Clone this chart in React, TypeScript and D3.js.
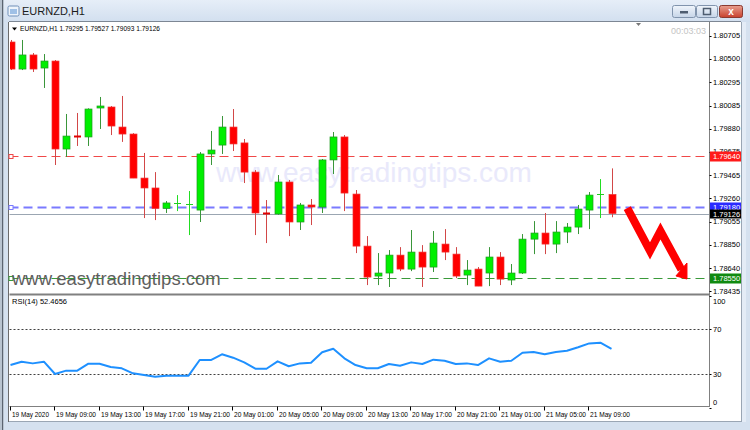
import React from 'react';
import * as d3 from 'd3';

// EURNZD H1 candles, 19 May 05:00 .. 21 May 11:00
const opens = [1.80649, 1.80409, 1.80534, 1.80418, 1.80480, 1.79699, 1.79814, 1.79806, 1.80063, 1.80072,
  1.79894, 1.79832, 1.79441, 1.79353, 1.79172, 1.79215, 1.79208, 1.79157, 1.79655, 1.79734,
  1.79894, 1.79753, 1.79494, 1.79131, 1.79122, 1.79406, 1.79051, 1.79202, 1.79184, 1.79602,
  1.79806, 1.79299, 1.78837, 1.78571, 1.78598, 1.78757, 1.78633, 1.78784, 1.78651, 1.78855,
  1.78766, 1.78580, 1.78633, 1.78598, 1.78740, 1.78536, 1.78598, 1.78899, 1.78953, 1.78855,
  1.78962, 1.79006, 1.79157, 1.79295, 1.79295];
const highs = [1.80667, 1.80667, 1.80551, 1.80542, 1.80489, 1.80010, 1.80019, 1.80060, 1.80161, 1.80081,
  1.80170, 1.79840, 1.79664, 1.79494, 1.79237, 1.79290, 1.79326, 1.79672, 1.79859, 1.79992,
  1.80054, 1.79788, 1.79512, 1.79246, 1.79468, 1.79424, 1.79220, 1.79255, 1.79610, 1.79850,
  1.79823, 1.79335, 1.78926, 1.78775, 1.78802, 1.78828, 1.78980, 1.78846, 1.78971, 1.78988,
  1.78828, 1.78713, 1.78651, 1.78828, 1.78784, 1.78678, 1.78944, 1.79059, 1.79131, 1.79059,
  1.79042, 1.79202, 1.79317, 1.79432, 1.79527];
const lows = [1.80400, 1.80400, 1.80383, 1.80241, 1.79557, 1.79628, 1.79726, 1.79726, 1.79877, 1.79823,
  1.79762, 1.79441, 1.79086, 1.79068, 1.79131, 1.79148, 1.78935, 1.79051, 1.79557, 1.79655,
  1.79681, 1.79397, 1.78935, 1.78864, 1.79115, 1.78926, 1.78980, 1.79024, 1.79131, 1.79477,
  1.79148, 1.78775, 1.78491, 1.78491, 1.78474, 1.78615, 1.78615, 1.78474, 1.78607, 1.78713,
  1.78553, 1.78491, 1.78482, 1.78482, 1.78491, 1.78491, 1.78590, 1.78766, 1.78766, 1.78775,
  1.78864, 1.78944, 1.78988, 1.79086, 1.79093];
const closes = [1.80409, 1.80534, 1.80409, 1.80480, 1.79699, 1.79814, 1.79806, 1.80054, 1.80081, 1.79903,
  1.79832, 1.79441, 1.79353, 1.79172, 1.79220, 1.79220, 1.79213, 1.79655, 1.79690, 1.79894,
  1.79744, 1.79494, 1.79131, 1.79122, 1.79406, 1.79051, 1.79202, 1.79184, 1.79602, 1.79806,
  1.79308, 1.78837, 1.78562, 1.78598, 1.78757, 1.78633, 1.78784, 1.78651, 1.78864, 1.78784,
  1.78571, 1.78624, 1.78482, 1.78740, 1.78544, 1.78598, 1.78899, 1.78953, 1.78855, 1.78962,
  1.79006, 1.79166, 1.79290, 1.79299, 1.79126];

const rsi = [38.0, 41.0, 39.5, 41.0, 30.0, 33.0, 33.0, 39.2, 39.2, 36.2,
  35.1, 30.6, 29.1, 27.6, 28.5, 28.5, 28.5, 42.5, 42.5, 47.6,
  44.6, 40.4, 34.7, 34.7, 41.3, 36.9, 39.5, 40.1, 49.4, 52.6,
  44.0, 38.0, 35.1, 35.1, 38.9, 37.4, 40.4, 38.9, 42.8, 41.9,
  38.9, 39.5, 38.0, 44.0, 41.0, 41.9, 49.0, 49.7, 47.6, 49.7,
  50.8, 53.9, 57.4, 58.0, 52.5];

const priceTicks = [1.80705, 1.80500, 1.80295, 1.80085, 1.79880, 1.79675, 1.79465, 1.79260, 1.79055, 1.78850, 1.78640, 1.78435];
const timeTickIdx = [0, 4, 8, 12, 16, 20, 24, 28, 32, 36, 40, 44, 48, 52];
const timeTickLabels = ['19 May 2020', '19 May 09:00', '19 May 13:00', '19 May 17:00', '19 May 21:00',
  '20 May 01:00', '20 May 05:00', '20 May 09:00', '20 May 13:00', '20 May 17:00', '20 May 21:00',
  '21 May 01:00', '21 May 05:00', '21 May 09:00'];
const rsiLevels = [70, 30];
const rsiLabels = [100, 70, 30, 0];

// horizontal lines: resistance, entry, support
const levelPrices = [1.79640, 1.79180, 1.78550];
const levelColors = ['#f04848', '#7a7aff', '#3a9a3a'];
const levelBoxColors = ['#ff1a1a', '#2a2aff', '#108a10'];
const levelWidths = [1, 2, 1];
const bidPrice = 1.79126;

// hand-drawn arrow, in (bar index, price)
const arrowLine: [number, number][] = [[55.42, 1.79175], [57.46, 1.78794], [58.40, 1.78971], [60.28, 1.78629]];
const arrowHead: [number, number][] = [[60.78, 1.78687], [60.78, 1.78545], [59.79, 1.78572]];

const FONT = '"Liberation Sans", Arial, sans-serif';

export default function App() {
  const x = d3.scaleLinear().domain([0, 54]).range([10.5, 611.5]);
  const y = d3.scaleLinear().domain([1.78640, 1.80705]).range([268.3, 35.7]);
  const yr = d3.scaleLinear().domain([0, 100]).range([407.5, 295.8]);

  const rsiLine = d3.line<number>().x((_, i) => x(i)).y(d => yr(d));
  const arrowPath = d3.line<[number, number]>().x(d => x(d[0])).y(d => y(d[1]));

  const left = 9.5, axisX = 709.5, mainBottom = 294.5, rsiBottom = 406.5;

  return (
    <div style={{ position: 'absolute', left: 0, top: 0 }}>
      <svg width={750} height={430} style={{ display: 'block' }} fontFamily={FONT}>
        <defs>
          <linearGradient id="title" x1="0" y1="0" x2="0" y2="1">
            <stop offset="0" stopColor="#e6eef8" />
            <stop offset="1" stopColor="#d2dfef" />
          </linearGradient>
          <linearGradient id="btn" x1="0" y1="0" x2="0" y2="1">
            <stop offset="0" stopColor="#f0f5fb" />
            <stop offset="1" stopColor="#c6d5e8" />
          </linearGradient>
          <linearGradient id="close" x1="0" y1="0" x2="0" y2="1">
            <stop offset="0" stopColor="#e8a090" />
            <stop offset="1" stopColor="#c8402c" />
          </linearGradient>
          <clipPath id="main">
            <rect x={10} y={22} width={699} height={272} />
          </clipPath>
        </defs>

        {/* window chrome */}
        <rect x={0} y={0} width={750} height={430} fill="#d5e1ef" />
        <rect x={0} y={0} width={750} height={22} fill="url(#title)" />
        <rect x={0} y={0} width={4} height={430} fill="#b9c4d0" />
        <line x1={2.5} y1={0} x2={2.5} y2={430} stroke="#5b6470" />
        <rect x={8} y={6} width={11} height={10} rx={1.5} fill="#eef4fb" stroke="#6f8fb8" />
        <rect x={10} y={9} width={7} height={5} fill="#9fc0e6" />
        <text x={22} y={15} fontSize={11} fill="#1b1b1b">EURNZD,H1</text>
        <rect x={672.5} y={5.5} width={23} height={12} rx={2} fill="url(#btn)" stroke="#8194ad" />
        <rect x={680} y={11} width={8} height={2.5} fill="#4e5d70" />
        <rect x={696.5} y={5.5} width={21} height={12} rx={2} fill="url(#btn)" stroke="#8194ad" />
        <rect x={703.5} y={8.5} width={7} height={6} fill="none" stroke="#4e5d70" strokeWidth={1.5} />
        <rect x={719.5} y={5.5} width={23} height={12} rx={2} fill="url(#close)" stroke="#8a3a30" />
        <text x={731} y={15} fontSize={10} fontWeight="bold" fill="#fff" textAnchor="middle">x</text>

        {/* chart window */}
        <rect x={9} y={22} width={732} height={400} fill="#fff" />
        <line x1={9} y1={21.5} x2={741} y2={21.5} stroke="#7d8794" />
        <line x1={8.5} y1={22} x2={8.5} y2={422} stroke="#6b6b6b" />
        <line x1={741.5} y1={22} x2={741.5} y2={422} stroke="#9aa6b4" />
        <rect x={742} y={22} width={4} height={400} fill="#e4ecf6" />
        <line x1={9} y1={421.5} x2={742} y2={421.5} stroke="#9aa6b4" />

        {/* watermark */}
        <text x={216} y={182} fontSize={28} fill="#e9e9fb">www.easytradingtips.com</text>

        {/* level lines */}
        {levelPrices.map((p, i) => (
          <g key={'lv' + i}>
            <line x1={left} x2={axisX} y1={Math.round(y(p)) + 0.5} y2={Math.round(y(p)) + 0.5}
              stroke={levelColors[i]} strokeWidth={levelWidths[i]} strokeDasharray="9,5" />
            <rect x={left - 0.5} y={Math.round(y(p)) - 1.5} width={4} height={4} fill="#fff" stroke={levelColors[i]} />
          </g>
        ))}
        <line x1={left} x2={axisX} y1={Math.round(y(bidPrice)) + 0.5} y2={Math.round(y(bidPrice)) + 0.5} stroke="#9ba6b2" />

        {/* candles */}
        <g clipPath="url(#main)">
          {opens.map((o, i) => {
            const c = closes[i];
            const up = c >= o;
            const cx = Math.round(x(i)) + 0.5;
            const top = y(Math.max(o, c));
            const bot = y(Math.min(o, c));
            const h = bot - top;
            const wick = up ? '#3a963a' : '#d24848';
            return (
              <g key={'c' + i}>
                <line x1={cx} x2={cx} y1={y(highs[i])} y2={y(lows[i])} stroke={h < 1.5 && up ? '#22dd22' : wick} />
                {h < 1.5 ? (
                  <line x1={cx - 3.5} x2={cx + 3.5} y1={Math.round(top) + 0.5} y2={Math.round(top) + 0.5}
                    stroke={up ? '#22cc22' : '#e00000'} strokeWidth={up ? 1 : 2} />
                ) : (
                  <rect x={cx - 3.5} y={top} width={7} height={h}
                    fill={up ? '#00ef00' : '#ff0000'} stroke={up ? '#1f9a1f' : '#f03030'} strokeWidth={0.7} />
                )}
              </g>
            );
          })}
        </g>

        {/* arrow */}
        <path d={arrowPath(arrowLine) || ''} fill="none" stroke="#ff0000" strokeWidth={8} strokeLinejoin="miter" />
        <path d={(arrowPath(arrowHead) || '') + 'Z'} fill="#ff0000" stroke="#ff0000" strokeWidth={1} />

        {/* bottom-left watermark */}
        <text x={12} y={285} fontSize={18.5} fill="#5e5e5e">www.easytradingtips.com</text>

        {/* pane frames */}
        <line x1={axisX} x2={axisX} y1={22} y2={rsiBottom} stroke="#808080" />
        <line x1={left} x2={axisX + 0.5} y1={mainBottom} y2={mainBottom} stroke="#808080" strokeWidth={2} />
        <line x1={left} x2={axisX + 0.5} y1={rsiBottom} y2={rsiBottom} stroke="#808080" />

        {/* header */}
        <path d="M12,27.5 L17,27.5 L14.5,30.5 Z" fill="#000" />
        <text x={20} y={31} fontSize={7.5} fill="#000" textLength={140} lengthAdjust="spacingAndGlyphs">EURNZD,H1  1.79295 1.79527 1.79093 1.79126</text>
        <path d="M636,23 L641,23 L638.5,26 Z" fill="#777" />
        <text x={706} y={34} fontSize={9} fill="#c4c4c4" textAnchor="end">00:03:03</text>

        {/* price axis */}
        {priceTicks.map(p => (
          <g key={'pt' + p}>
            <line x1={axisX} x2={axisX + 2} y1={Math.round(y(p)) + 0.5} y2={Math.round(y(p)) + 0.5} stroke="#000" />
            <text x={713} y={y(p) + 2.7} fontSize={7.5} fill="#000">{p.toFixed(5)}</text>
          </g>
        ))}
        {levelPrices.map((p, i) => (
          <g key={'lb' + i}>
            <rect x={710} y={Math.round(y(p)) - 4.5} width={31} height={10} fill={levelBoxColors[i]} />
            <text x={713} y={Math.round(y(p)) + 3.3} fontSize={7.5} fill="#fff">{p.toFixed(5)}</text>
          </g>
        ))}
        <rect x={710} y={Math.round(y(bidPrice)) - 4.5} width={31} height={9} fill="#000" />
        <text x={713} y={Math.round(y(bidPrice)) + 2.8} fontSize={7.5} fill="#fff">{bidPrice.toFixed(5)}</text>

        {/* RSI pane */}
        <text x={12} y={304} fontSize={7.5} fill="#000">RSI(14) 52.4656</text>
        {rsiLevels.map(l => (
          <line key={'rl' + l} x1={left} x2={axisX} y1={Math.round(yr(l)) + 0.5} y2={Math.round(yr(l)) + 0.5}
            stroke="#404040" strokeDasharray="2,2" />
        ))}
        <path d={rsiLine(rsi) || ''} fill="none" stroke="#1e90ff" strokeWidth={2} strokeLinejoin="round" />
        {rsiLabels.map(l => (
          <g key={'rt' + l}>
            <line x1={axisX} x2={axisX + 2} y1={Math.round(yr(l)) + 0.5} y2={Math.round(yr(l)) + 0.5} stroke="#000" />
            <text x={713} y={l === 100 ? 304 : l === 0 ? 405 : yr(l) + 2.7} fontSize={7.5} fill="#000">{l}</text>
          </g>
        ))}

        {/* time axis */}
        {timeTickIdx.map((t, i) => (
          <g key={'tt' + t}>
            <line x1={Math.round(x(t)) - 0.5} x2={Math.round(x(t)) - 0.5} y1={rsiBottom} y2={rsiBottom + 4} stroke="#000" />
            <text x={Math.round(x(t)) + 1} y={416.5} fontSize={7.5} fill="#000"
              textLength={i === 0 ? 37 : 40} lengthAdjust="spacingAndGlyphs">{timeTickLabels[i]}</text>
          </g>
        ))}
      </svg>
    </div>
  );
}
